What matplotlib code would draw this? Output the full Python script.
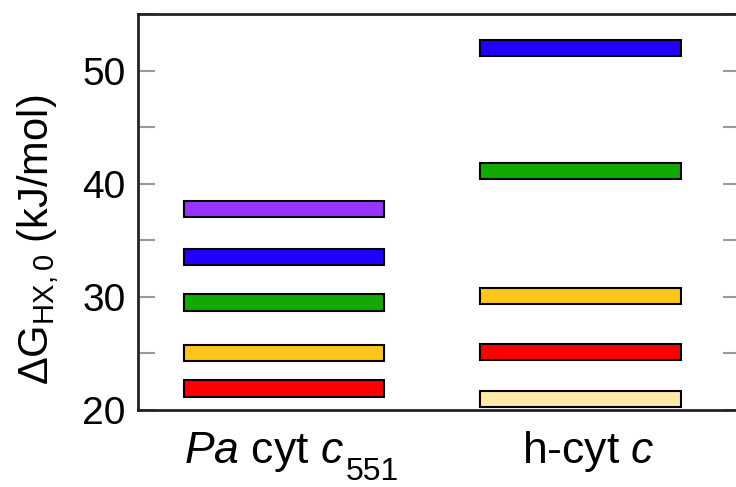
import matplotlib
matplotlib.use('Agg')
import matplotlib.pyplot as plt
from matplotlib.ticker import MultipleLocator

## font setup, Arial-like look
plt.rcParams['font.family'] = ['Liberation Sans', 'DejaVu Sans']
plt.rcParams['mathtext.fontset'] = 'custom'
plt.rcParams['mathtext.rm'] = 'Liberation Sans'
plt.rcParams['mathtext.it'] = 'Liberation Sans:italic'

## data
proteins = [r'$\it{Pa}$ cyt $\it{c}$', r'h-cyt $\it{c}$']
protein_subs = ['551', '']
pa_values = [21.9, 25.0, 29.5, 33.5, 37.8]
pa_colors = ['#ff0000', '#ffc61a', '#11aa00', '#2200ff', '#9933ff']
h_values = [21.0, 25.1, 30.1, 41.1, 52.0]
h_colors = ['#ffe9a8', '#ff0000', '#ffc61a', '#11aa00', '#2200ff']

bar_h = 1.42
bar_w = 0.675
W, H = 736, 487

fig = plt.figure(figsize=(W/100, H/100), dpi=100)
ax = fig.add_axes([138/W, 77/H, 602/W, 396/H])

for i, (vals, cols) in enumerate([(pa_values, pa_colors), (h_values, h_colors)]):
    for v, c in zip(vals, cols):
        ax.bar(i, bar_h, bottom=v - bar_h/2, width=bar_w, color=c,
               edgecolor='black', linewidth=1.5)

ax.set_xlim(-0.492, 1.538)
ax.set_ylim(20, 55)
ax.set_xticks([])
ax.yaxis.set_major_locator(MultipleLocator(10))
ax.yaxis.set_minor_locator(MultipleLocator(5))
ax.tick_params(axis='y', which='both', direction='in', length=12, width=1.5,
               color='#999999', right=True, labelsize=28, pad=9)
ax.tick_params(axis='y', which='minor', labelleft=False)

for s in ax.spines.values():
    s.set_linewidth(2)
    s.set_color('#222222')

## y label placed by hand
fig.text(38/W, 1 - 240/H, r'$\Delta$G$_{\rm HX,0}$ (kJ/mol)', fontsize=30,
         rotation=90, ha='center', va='center')

## category labels with a low-hanging subscript, centred a bit right of the bars
fig.canvas.draw()
r = fig.canvas.get_renderer()
base_y = 1 - 463/H
sub_y = 1 - 480/H
for i, (name, sub) in enumerate(zip(proteins, protein_subs)):
    cx = ax.transData.transform((i, 20))[0] + 8
    t = fig.text(0, base_y, name, fontsize=32, ha='left', va='baseline')
    w1 = t.get_window_extent(r).width
    w2 = 0
    if sub:
        s = fig.text(0, sub_y, sub, fontsize=23, ha='left', va='baseline')
        w2 = s.get_window_extent(r).width + 2
    x0 = cx - (w1 + w2) / 2
    t.set_x(x0 / W)
    if sub:
        s.set_x((x0 + w1 + 2) / W)

fig.savefig('out.png', dpi=100)
